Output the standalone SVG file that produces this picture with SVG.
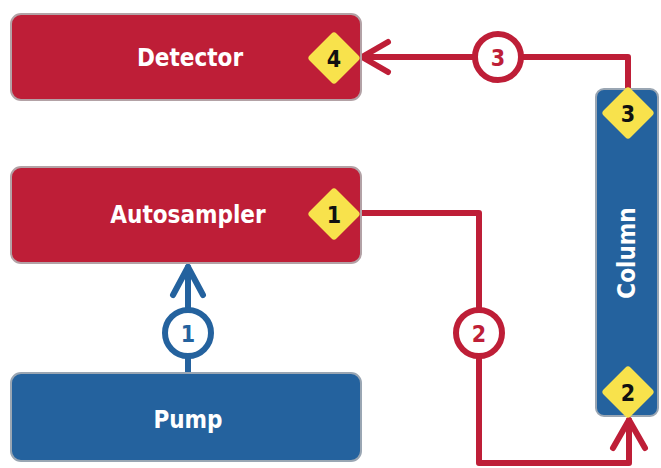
<svg xmlns="http://www.w3.org/2000/svg" width="661" height="468" viewBox="0 0 661 468">
<style>
.red{fill:#BE1E37;stroke:#B3A2A6;stroke-width:2}
.blue{fill:#24629E;stroke:#9AA6B3;stroke-width:2}
.lbl{font-family:"DejaVu Sans Condensed","DejaVu Sans",sans-serif;font-stretch:condensed;font-weight:bold;font-size:24px;fill:#fff;text-anchor:middle;dominant-baseline:central}
.dia{fill:#F8E24C;stroke:#F8E24C;stroke-width:7;stroke-linejoin:round}
.dnum{font-family:"DejaVu Sans Condensed","DejaVu Sans",sans-serif;font-weight:bold;font-size:23px;fill:#111;text-anchor:middle;dominant-baseline:central}
.lr{fill:none;stroke:#BE1E37;stroke-width:6;stroke-linecap:round;stroke-linejoin:round}
.lb{fill:none;stroke:#24629E;stroke-width:6;stroke-linecap:round;stroke-linejoin:round}
.cnum{font-family:"DejaVu Sans Condensed","DejaVu Sans",sans-serif;font-weight:bold;font-size:23px;text-anchor:middle;dominant-baseline:central}
</style>
<defs>
<path id="d" d="M0,-22 L22,0 L0,22 L-22,0 Z"/>
</defs>
<rect width="661" height="468" fill="#fff"/>
<g id="connectors">
<g id="c3">
<path class="lr" d="M628,90 V57 H362"/>
<path class="lr" d="M388,42 L362,57 L388,72"/>
<circle cx="498" cy="57" r="23" fill="#fff" stroke="#BE1E37" stroke-width="6"/>
<text class="cnum" x="498" y="58" fill="#BE1E37">3</text>
</g>
<g id="c2">
<path class="lr" d="M362,213 H479 V463 H629 V420"/>
<path class="lr" d="M613,448 L629,420 L645,448"/>
<circle cx="479" cy="333" r="23" fill="#fff" stroke="#BE1E37" stroke-width="6"/>
<text class="cnum" x="479" y="334" fill="#BE1E37">2</text>
</g>
<g id="c1">
<path class="lb" d="M188,372 V267"/>
<path class="lb" d="M173,295 L188,267 L203,295"/>
<circle cx="188" cy="333" r="23" fill="#fff" stroke="#24629E" stroke-width="6"/>
<text class="cnum" x="188" y="334" fill="#24629E">1</text>
</g>
</g>
<g id="detector">
<rect class="red" x="11" y="14" width="350" height="86" rx="10"/>
<text class="lbl" x="190" y="58">Detector</text>
<use href="#d" class="dia" x="334" y="58"/>
<text class="dnum" x="334" y="59">4</text>
</g>
<g id="autosampler">
<rect class="red" x="11" y="167" width="350" height="96" rx="10"/>
<text class="lbl" x="188" y="215">Autosampler</text>
<use href="#d" class="dia" x="334" y="214"/>
<text class="dnum" x="334" y="215">1</text>
</g>
<g id="pump">
<rect class="blue" x="11" y="373" width="350" height="88" rx="10"/>
<text class="lbl" x="188" y="420">Pump</text>
</g>
<g id="column">
<rect class="blue" x="596" y="89" width="62" height="327" rx="8"/>
<text class="lbl" transform="translate(627 253) rotate(-90)">Column</text>
<use href="#d" class="dia" x="628" y="113"/>
<text class="dnum" x="628" y="114">3</text>
<use href="#d" class="dia" x="628" y="392"/>
<text class="dnum" x="628" y="393">2</text>
</g>
</svg>
